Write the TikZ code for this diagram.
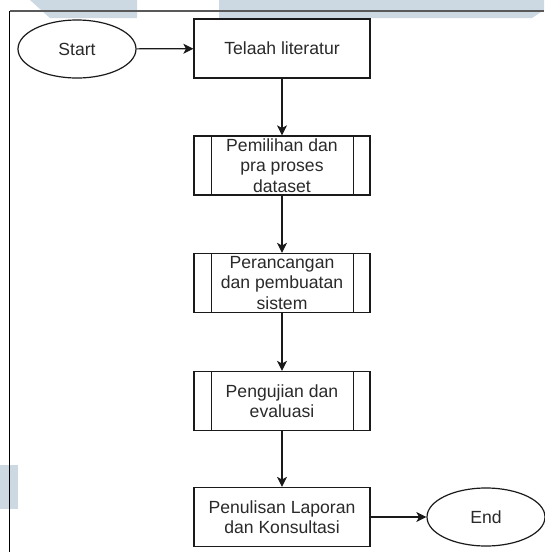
\documentclass[tikz,border=0pt]{standalone}
\usepackage{fontspec}
\setmainfont{Liberation Sans}
\usetikzlibrary{arrows.meta,shapes.geometric}
\definecolor{wm}{HTML}{CCD9E3}
\definecolor{txt}{HTML}{2A2A2A}
\definecolor{ln}{HTML}{1A1A1A}
\tikzset{
  base/.style={draw=ln, line width=1.2pt, text=txt, font=\fontsize{17.6}{20.5}\selectfont, align=center, inner sep=0pt},
  term/.style={base, ellipse, minimum width=118pt, minimum height=58pt},
  procbox/.style={base, rectangle, minimum width=176pt, minimum height=59pt},
  subproc/.style={procbox, append after command={
      \pgfextra{\draw[draw=ln, line width=1.2pt]
        ([xshift=18pt]\tikzlastnode.north west) -- ([xshift=18pt]\tikzlastnode.south west)
        ([xshift=-17pt]\tikzlastnode.north east) -- ([xshift=-17pt]\tikzlastnode.south east);}}},
  conn/.style={draw=ln, line width=1.2pt, -{Stealth[length=10pt,width=10pt,inset=2.5pt]}}
}
\begin{document}
\begin{tikzpicture}[x=1pt,y=-1pt]
\useasboundingbox (0,0) rectangle (544,552);
\fill[white] (0,0) rectangle (544,552);
% watermark shapes
\fill[wm] (30,0) -- (137,0) -- (137,18) -- (50,18) -- cycle;
\fill[wm] (219,0) -- (544,0) -- (544,10) -- (532,18) -- (219,18) -- cycle;
\fill[wm] (0,465) rectangle (18,509);
% page border
\draw[draw=black!65, line width=1.6pt] (9.5,11) -- (544,11);
\draw[draw=black, line width=1pt] (9.5,552) -- (9.5,11);
% nodes
\node[term] (start) at (77,49) {Start};
\node[procbox] (telaah) at (282,48.5) {Telaah literatur};
\node[subproc] (pilih) at (282,165.5) {Pemilihan dan\\pra proses\\dataset};
\node[subproc] (rancang) at (282,283) {Perancangan\\dan pembuatan\\sistem};
\node[subproc] (uji) at (282,401) {Pengujian dan\\evaluasi};
\node[procbox] (tulis) at (282,517) {Penulisan Laporan\\dan Konsultasi};
\node[term] (end) at (486,517) {End};
% connectors
\draw[conn] (start) -- (telaah);
\draw[conn] (telaah) -- (pilih);
\draw[conn] (pilih) -- (rancang);
\draw[conn] (rancang) -- (uji);
\draw[conn] (uji) -- (tulis);
\draw[conn] (tulis) -- (end);
\end{tikzpicture}
\end{document}
